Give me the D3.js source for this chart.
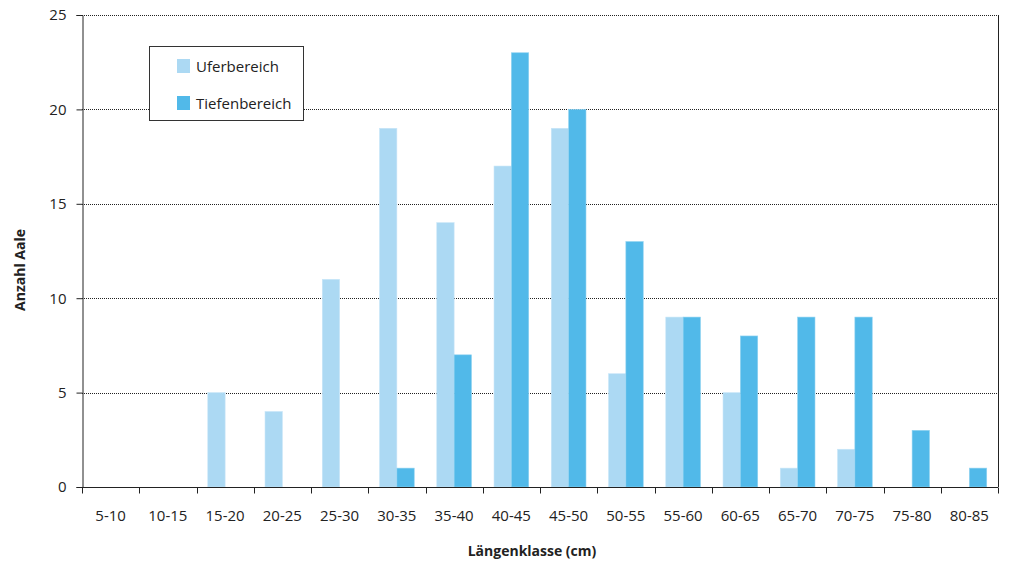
<!DOCTYPE html>
<html>
<head>
<meta charset="utf-8">
<script src="https://cdn.jsdelivr.net/npm/d3@7"></script>
<style>
  body { margin: 0; background: #fff; }
  svg text { font-family: "Open Sans", "Noto Sans", sans-serif; fill: #222; }
</style>
</head>
<body>
<svg id="chart" width="1009" height="562"></svg>
<script>
// Length classes of eels (cm)
const categories = ["5-10","10-15","15-20","20-25","25-30","30-35","35-40","40-45",
                    "45-50","50-55","55-60","60-65","65-70","70-75","75-80","80-85"];
// Counts per length class
const uferbereich  = [0,0,5,4,11,19,14,17,19,6,9,5,1,2,0,0];
const tiefenbereich = [0,0,0,0,0,1,7,23,20,13,9,8,9,9,3,1];
const seriesNames = ["Uferbereich", "Tiefenbereich"];
const yTicks = [0,5,10,15,20,25];

const colors = ["#acd9f3", "#51b9e9"];
const margin = {left: 82, right: 11, top: 15, bottom: 75};
const W = 1009, H = 562;
const iw = W - margin.left - margin.right;
const ih = H - margin.top - margin.bottom;

const svg = d3.select("#chart");
const g = svg.append("g").attr("transform", `translate(${margin.left},${margin.top})`);

const x = d3.scaleBand().domain(categories).range([0, iw]).paddingInner(0).paddingOuter(0);
const xs = d3.scaleBand().domain(seriesNames).range([0, x.bandwidth()]).paddingInner(0).paddingOuter(0.65);
const y = d3.scaleLinear().domain([0, 25]).range([ih, 0]);

// horizontal dotted gridlines
g.append("g").selectAll("line").data(yTicks.filter(d => d > 0)).join("line")
  .attr("x1", 0).attr("x2", iw)
  .attr("y1", d => Math.round(y(d)) + 0.5).attr("y2", d => Math.round(y(d)) + 0.5)
  .attr("stroke", "#222").attr("stroke-width", 1).attr("stroke-dasharray", "1,1");

// right border of plot area
g.append("line").attr("x1", iw + 0.5).attr("x2", iw + 0.5).attr("y1", 0).attr("y2", ih)
  .attr("stroke", "#222");

// bars
const data = [uferbereich, tiefenbereich];
data.forEach((vals, si) => {
  g.append("g").selectAll("rect").data(vals.map((v, i) => ({cat: categories[i], v})))
    .join("rect")
    .filter(d => d.v > 0)
    .attr("x", d => x(d.cat) + xs(seriesNames[si]))
    .attr("width", xs.bandwidth())
    .attr("y", d => y(d.v))
    .attr("height", d => y(0) - y(d.v))
    .attr("fill", colors[si])
    .attr("stroke", si === 0 ? "#c8e6f8" : "#8fd2f1")
    .attr("stroke-width", 0.6);
});

// y axis
const yAxis = g.append("g").attr("transform", "translate(0.5,0)")
  .call(d3.axisLeft(y).tickValues(yTicks).tickSize(6).tickPadding(10));
yAxis.select(".domain").attr("stroke", "#222");
yAxis.selectAll(".tick line").attr("stroke", "#222");
yAxis.selectAll("text").attr("font-size", 15).attr("fill", "#222");

// x axis: ticks at class boundaries
const xAxisG = g.append("g").attr("transform", `translate(0,${ih + 0.5})`);
xAxisG.append("line").attr("x1", 0).attr("x2", iw).attr("stroke", "#222");
xAxisG.selectAll("line.tk").data(d3.range(categories.length + 1)).join("line")
  .attr("class", "tk")
  .attr("x1", i => Math.round(i * x.step()) + 0.5).attr("x2", i => Math.round(i * x.step()) + 0.5)
  .attr("y1", 0).attr("y2", 6).attr("stroke", "#222");
xAxisG.selectAll("text").data(categories).join("text")
  .attr("x", d => x(d) + x.bandwidth() / 2)
  .attr("y", 33)
  .attr("text-anchor", "middle")
  .attr("font-size", 15)
  .text(d => d);

// axis titles
svg.append("text").attr("x", 532).attr("y", 556).attr("text-anchor", "middle")
  .attr("font-size", 14).attr("font-weight", "bold").text("Längenklasse (cm)");
svg.append("text").attr("transform", "translate(25,270) rotate(-90)").attr("text-anchor", "middle")
  .attr("font-size", 14).attr("font-weight", "bold").text("Anzahl Aale");

// legend
const leg = svg.append("g");
leg.append("rect").attr("x", 149.5).attr("y", 46.5).attr("width", 154).attr("height", 74)
  .attr("fill", "#fff").attr("stroke", "#333");
seriesNames.forEach((name, i) => {
  const yy = 59 + i * 37;
  leg.append("rect").attr("x", 177).attr("y", yy).attr("width", 13).attr("height", 14).attr("fill", colors[i]);
  leg.append("text").attr("x", 196).attr("y", yy + 13).attr("font-size", 15).text(name);
});
</script>
</body>
</html>
